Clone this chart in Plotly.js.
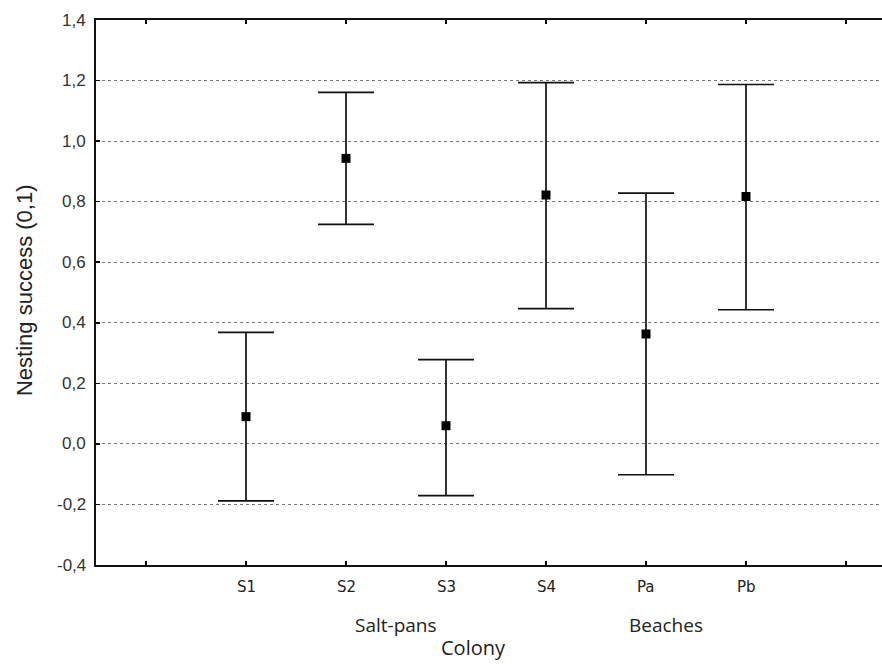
<!DOCTYPE html>
<html>
<head>
<meta charset="utf-8">
<script src="https://cdn.plot.ly/plotly-3.0.1.min.js"></script>
<style>html,body{margin:0;padding:0;background:#fff;}#chart{width:882px;height:664px;}</style>
</head>
<body>
<div id="chart"></div>
<script>
const categories = ['S1', 'S2', 'S3', 'S4', 'Pa', 'Pb'];
const means = [0.09, 0.943, 0.06, 0.822, 0.363, 0.817];
const upper = [0.368, 1.161, 0.278, 1.193, 0.828, 1.187];
const lower = [-0.188, 0.725, -0.171, 0.447, -0.102, 0.443];
const yTickVals = [-0.4, -0.2, 0.0, 0.2, 0.4, 0.6, 0.8, 1.0, 1.2, 1.4];
const yTickText = ['-0,4', '-0,2', '0,0', '0,2', '0,4', '0,6', '0,8', '1,0', '1,2', '1,4'];
const groups = ['Salt-pans', 'Beaches'];
const groupPos = [2.5, 5.2];
const xTitle = 'Colony';
const yTitle = 'Nesting success (0,1)';

const xs = categories.map((c, i) => i + 1);
const xTickVals = [0].concat(xs, [categories.length + 1]);

const trace = {
  type: 'scatter',
  mode: 'markers',
  x: xs,
  y: means,
  marker: {symbol: 'square', size: 9, color: '#000'},
  error_y: {
    type: 'data',
    symmetric: false,
    array: upper.map((u, i) => u - means[i]),
    arrayminus: means.map((m, i) => m - lower[i]),
    color: '#111',
    thickness: 1.7,
    width: 28
  },
  hoverinfo: 'skip'
};

const annotations = [];
// y tick labels, placed through the y scale
yTickVals.forEach((v, i) => annotations.push({
  text: yTickText[i], x: -0.01, xref: 'paper', y: v, yref: 'y',
  showarrow: false, xanchor: 'right', yanchor: 'middle',
  font: {family: 'Liberation Sans', size: 17, color: '#333'}
}));
// x tick labels, placed through the x scale
categories.forEach((c, i) => annotations.push({
  text: c, x: xs[i], xref: 'x', y: -0.041, yref: 'paper',
  showarrow: false, xanchor: 'center', yanchor: 'middle',
  font: {family: 'DejaVu Sans', size: 15, color: '#222'}
}));
// group labels
groups.forEach((g, i) => annotations.push({
  text: g, x: groupPos[i], xref: 'x', y: -0.11, yref: 'paper',
  showarrow: false, xanchor: 'center', yanchor: 'middle',
  font: {family: 'Open Sans', size: 19, color: '#222'}
}));
// axis titles
annotations.push({
  text: xTitle, x: 0.48, xref: 'paper', y: -0.18, yref: 'paper',
  showarrow: false, xanchor: 'center', yanchor: 'bottom',
  font: {family: 'Open Sans', size: 20, color: '#222'}
});
annotations.push({
  text: yTitle, textangle: -90, x: -0.09, xref: 'paper', y: 0.505, yref: 'paper',
  showarrow: false, xanchor: 'center', yanchor: 'middle',
  font: {family: 'Liberation Sans', size: 22, color: '#222'}
});

const layout = {
  width: 882,
  height: 664,
  margin: {l: 96, r: 0, t: 20, b: 99},
  paper_bgcolor: '#fff',
  plot_bgcolor: '#fff',
  showlegend: false,
  xaxis: {
    range: [-0.5, 7.36],
    tickmode: 'array',
    tickvals: xTickVals,
    showticklabels: false,
    ticks: 'inside',
    ticklen: 4,
    tickwidth: 1.5,
    tickcolor: '#000',
    showline: true,
    linecolor: '#111',
    linewidth: 2,
    mirror: 'ticks',
    showgrid: false,
    zeroline: false,
    automargin: false
  },
  yaxis: {
    range: [-0.4, 1.4],
    tickmode: 'array',
    tickvals: yTickVals,
    showticklabels: false,
    ticks: 'inside',
    ticklen: 4,
    tickwidth: 1.5,
    tickcolor: '#000',
    showline: true,
    linecolor: '#111',
    linewidth: 2,
    showgrid: true,
    gridcolor: '#777',
    griddash: 'dot',
    gridwidth: 1,
    zeroline: false,
    automargin: false
  },
  annotations: annotations
};

Plotly.newPlot('chart', [trace], layout, {displayModeBar: false, staticPlot: true});
</script>
</body>
</html>
